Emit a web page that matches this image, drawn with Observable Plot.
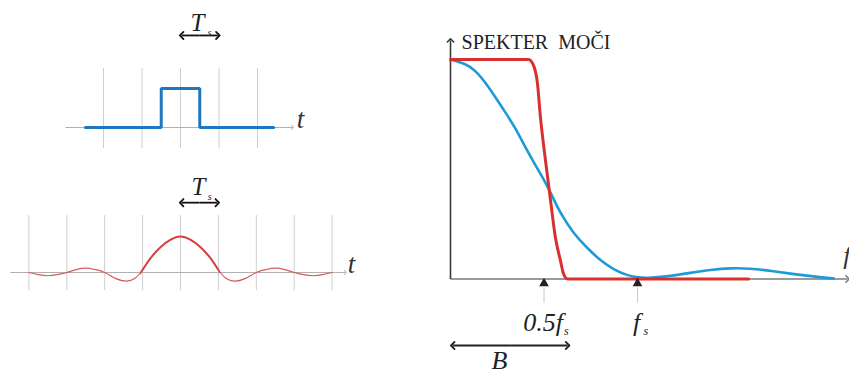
<!DOCTYPE html>
<html><head><meta charset="utf-8">
<script src="https://cdn.jsdelivr.net/npm/d3@7"></script>
<script src="https://cdn.jsdelivr.net/npm/@observablehq/plot@0.6"></script>
<style>
html,body{margin:0;padding:0;background:#fff;}
#wrap{position:relative;width:849px;height:375px;overflow:hidden;background:#fff;}
#wrap svg{position:absolute;left:0;top:0;}
</style></head><body><div id="wrap"></div>
<script>
// ---- top-left: rectangular pulse (time in units of Ts) ----
const pulseT = [-2.47, -0.5, -0.5, 0.5, 0.5, 2.42];
const pulseV = [0, 0, 1, 1, 0, 0];
const pulseGrid = [-2, -1, 0, 1, 2];

// ---- bottom-left: sinc pulse ----
const sincT = [-4, -3.75, -3.5, -3.25, -3, -2.75, -2.5, -2.25, -2, -1.7, -1.42, -1.2, -1.05, -0.92, -0.79, -0.53, -0.26, 0, 0.26, 0.53, 0.79, 0.92, 1.05, 1.2, 1.42, 1.7, 2, 2.25, 2.5, 2.75, 3, 3.25, 3.5, 3.75, 4];
const sincV = [0, -0.06, -0.09, -0.06, 0, 0.08, 0.12, 0.08, 0, -0.17, -0.24, -0.16, 0, 0.2, 0.4, 0.7, 0.91, 1, 0.91, 0.7, 0.4, 0.2, 0, -0.16, -0.24, -0.17, 0, 0.08, 0.12, 0.08, 0, -0.06, -0.09, -0.06, 0];
const sincGrid = [-4, -3, -2, -1, 0, 1, 2, 3, 4];
const mainLobe = [-1.05, 1.05];

// ---- right: power spectrum (frequency in units of fs) ----
const blueF = [0, 0.08, 0.134, 0.187, 0.241, 0.294, 0.348, 0.401, 0.455, 0.508, 0.54, 0.588, 0.658, 0.733, 0.802, 0.872, 0.947, 1.0, 1.07, 1.18, 1.28, 1.39, 1.5, 1.6, 1.71, 1.86, 2.0, 2.05];
const blueP = [1, 0.982, 0.95, 0.895, 0.827, 0.759, 0.686, 0.599, 0.517, 0.44, 0.385, 0.298, 0.207, 0.139, 0.084, 0.043, 0.016, 0.006, 0.005, 0.014, 0.028, 0.042, 0.05, 0.048, 0.038, 0.019, 0.006, 0.002];
const redF = [0, 0.417, 0.444, 0.465, 0.481, 0.508, 0.535, 0.561, 0.588, 0.604, 0.626, 1.594];
const redP = [1, 1, 0.973, 0.891, 0.736, 0.54, 0.358, 0.189, 0.084, 0.025, 0, 0];
const freqTicks = [0.5, 1];
const bandwidth = 0.626;

const W = 849, H = 375;
const wrap = document.getElementById("wrap");
const common = {width: W, height: H, style: {background: "transparent", overflow: "visible"}};
const serifI = {fontFamily: "Liberation Serif", fontStyle: "italic"};
const zip = (a, b) => a.map((x, i) => ({x, y: b[i]}));
// double-headed arrow as two links going outward from the middle
const dbl = (a, b, y) => [{x1: (a + b) / 2, x2: a, y}, {x1: (a + b) / 2, x2: b, y}];
const arrowOpts = {x1: "x1", x2: "x2", y1: "y", y2: "y", stroke: "#111", strokeWidth: 1.8, markerEnd: "arrow"};

// top-left
wrap.append(Plot.plot({
  ...common,
  x: {domain: [-4, 4], range: [180 - 4 * 38.5, 180 + 4 * 38.5], axis: null},
  y: {domain: [0, 1], range: [127, 88], axis: null},
  marks: [
    Plot.ruleX(pulseGrid, {x: d => d, y1: -0.54, y2: 1.51, stroke: "#cfcfcf", strokeWidth: 1}),
    Plot.link([0], {x1: -2.99, x2: 2.91, y1: 0, y2: 0, stroke: "#b0b0b0", strokeWidth: 1, markerEnd: "arrow"}),
    Plot.line(zip(pulseT, pulseV), {x: "x", y: "y", stroke: "#1f78bf", strokeWidth: 3, strokeLinejoin: "miter"}),
    Plot.text(["t"], {x: 3.12, y: 0.21, text: d => d, fontSize: 27, fill: "#333", ...serifI}),
    Plot.link(dbl(0.03, 0.97, 2.36), arrowOpts),
    Plot.text(["T"], {x: 0.44, y: 2.67, text: d => d, fontSize: 25, fill: "#222", ...serifI}),
    Plot.text(["s"], {x: 0.75, y: 2.42, text: d => d, fontSize: 10, fill: "#222", ...serifI})
  ]
}));

// bottom-left
const sinc = zip(sincT, sincV);
const sx = {domain: [-4, 4], range: [180 - 4 * 37.9, 180 + 4 * 37.9], axis: null};
const sy = {domain: [0, 1], range: [272, 236], axis: null};
wrap.append(Plot.plot({
  ...common, x: sx, y: sy,
  marks: [
    Plot.ruleX(sincGrid, {x: d => d, y1: -0.5, y2: 1.58, stroke: "#cfcfcf", strokeWidth: 1}),
    Plot.link([0], {x1: -4.49, x2: 4.35, y1: 0, y2: 0, stroke: "#b0b0b0", strokeWidth: 1, markerEnd: "arrow"}),
    Plot.line(sinc, {x: "x", y: "y", stroke: "#d65a5a", strokeWidth: 1.2, curve: "natural"}),
    Plot.text(["t"], {x: 4.51, y: 0.23, text: d => d, fontSize: 27, fill: "#333", ...serifI}),
    Plot.link(dbl(0.03, 0.97, 1.94), arrowOpts),
    Plot.text(["T"], {x: 0.475, y: 2.37, text: d => d, fontSize: 25, fill: "#222", ...serifI}),
    Plot.text(["s"], {x: 0.77, y: 2.1, text: d => d, fontSize: 10, fill: "#222", ...serifI})
  ]
}));
// thicker main lobe: same curve, clipped to the main-lobe frame
wrap.append(Plot.plot({
  ...common, x: sx, y: sy,
  marginLeft: 180 + mainLobe[0] * 37.9, marginRight: W - (180 + mainLobe[1] * 37.9),
  marginTop: 0, marginBottom: 0,
  marks: [
    Plot.line(sinc, {x: "x", y: "y", stroke: "#d04444", strokeWidth: 2, curve: "natural", clip: true})
  ]
}));

// right: spectrum
wrap.append(Plot.plot({
  ...common,
  x: {domain: [0, 1], range: [450, 637], axis: null},
  y: {domain: [0, 1], range: [278.5, 59], axis: null},
  marks: [
    Plot.ruleX(freqTicks, {x: d => d, y1: -0.04, y2: -0.11, stroke: "#c8c8c8", strokeWidth: 1}),
    Plot.link([0], {x1: 0, x2: 2.123, y1: 0, y2: 0, stroke: "#7a7a7a", strokeWidth: 1.6, markerEnd: "arrow"}),
    Plot.link([0], {x1: 0, x2: 0, y1: 0, y2: 1.087, stroke: "#3a3a3a", strokeWidth: 1.6, markerEnd: "arrow"}),
    Plot.line(zip(blueF, blueP), {x: "x", y: "y", stroke: "#1f9ad8", strokeWidth: 2.6, curve: "basis"}),
    Plot.line(zip(redF, redP), {x: "x", y: "y", stroke: "#d8302e", strokeWidth: 3, curve: "monotone-x"}),
    Plot.dot(freqTicks, {x: d => d, y: -0.02, symbol: "triangle", r: 3.6, fill: "#222", stroke: "none"}),
    Plot.text(["SPEKTER  MOČI"], {x: 0.059, y: 1.079, text: d => d, textAnchor: "start", fontSize: 20, fill: "#222", fontFamily: "Liberation Serif"}),
    Plot.text(["f"], {x: 2.10, y: 0.108, text: d => d, textAnchor: "start", fontSize: 26, fill: "#333", ...serifI}),
    Plot.text(["0.5f"], {x: freqTicks[0], y: -0.197, dx: 19, text: d => d, textAnchor: "end", fontSize: 26, fill: "#222", letterSpacing: "1.5px", ...serifI}),
    Plot.text(["s"], {x: freqTicks[0], y: -0.237, dx: 20, text: d => d, textAnchor: "start", fontSize: 12, fill: "#222", ...serifI}),
    Plot.text(["f"], {x: freqTicks[1], y: -0.197, dx: -1, text: d => d, fontSize: 26, fill: "#222", ...serifI}),
    Plot.text(["s"], {x: freqTicks[1], y: -0.237, dx: 6, text: d => d, textAnchor: "start", fontSize: 12, fill: "#222", ...serifI}),
    Plot.link(dbl(0.012, bandwidth, -0.303), {...arrowOpts, stroke: "#222"}),
    Plot.text(["B"], {x: 0.262, y: -0.372, text: d => d, fontSize: 26, fill: "#222", ...serifI})
  ]
}));
</script></body></html>
